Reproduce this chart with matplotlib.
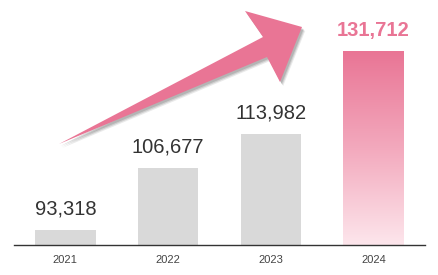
import numpy as np
import matplotlib
matplotlib.use("Agg")
import matplotlib.pyplot as plt
from matplotlib.patches import Polygon
from matplotlib.colors import LinearSegmentedColormap

years = ["2021", "2022", "2023", "2024"]
values = [93318, 106677, 113982, 131712]

W, H = 439, 275
plt.rcParams["font.family"] = ["Liberation Sans", "DejaVu Sans"]

fig = plt.figure(figsize=(W / 100, H / 100), dpi=100)
ax = fig.add_axes([14 / W, 1 - 245 / H, 411 / W, 245 / H])

ymin, ymax = 90000, 142800
bar_w = 0.59
gray = "#d9d9d9"
pink = "#e97595"
x = np.arange(len(years))
last = len(values) - 1

# gray bars for the earlier years
for i, v in enumerate(values[:last]):
    ax.bar(x[i], v - ymin, bottom=ymin, width=bar_w, color=gray, zorder=2)
    ax.annotate(f"{v:,}", (x[i], v), xytext=(0, 8), textcoords="offset points",
                ha="center", va="bottom", fontsize=14.5, color="#333333")

# gradient bar for the last year
cmap = LinearSegmentedColormap.from_list("pk", ["#fde6ec", "#f3a9bd", pink])
grad = np.linspace(0, 1, 256).reshape(-1, 1)
ax.imshow(grad, cmap=cmap, origin="lower", aspect="auto", zorder=2,
          extent=(x[last] - bar_w / 2, x[last] + bar_w / 2, ymin, values[last]))
ax.annotate(f"{values[last]:,}", (x[last], values[last]), xytext=(0, 8),
            textcoords="offset points", ha="center", va="bottom", fontsize=14.5,
            fontweight="bold", color=pink)

ax.set_xlim(-0.5, len(years) - 0.5)
ax.set_ylim(ymin, ymax)
ax.set_xticks(x)
ax.set_xticklabels(years, fontsize=8, color="#444444")
ax.tick_params(axis="x", length=0, pad=7)
ax.set_yticks([])
for s in ["top", "left", "right"]:
    ax.spines[s].set_visible(False)
ax.spines["bottom"].set_color("#333333")
ax.spines["bottom"].set_linewidth(1)

# decorative trend arrow (pixel positions in the picture)
arrow_px = [(59, 144), (263, 37), (245, 11), (302, 27), (280, 82), (267, 57)]


def to_fig(pts, dx=0, dy=0):
    return [((px + dx) / W, 1 - (py + dy) / H) for px, py in pts]


# soft drop shadow
for k, a in [(4.0, 0.12), (3.0, 0.18), (2.0, 0.22)]:
    fig.patches.append(Polygon(to_fig(arrow_px, k * 0.8, k), closed=True,
                               transform=fig.transFigure, facecolor="#555555",
                               edgecolor="none", alpha=a, zorder=3))
fig.patches.append(Polygon(to_fig(arrow_px), closed=True, transform=fig.transFigure,
                           facecolor=pink, edgecolor="none", zorder=4))

fig.savefig("out.png", dpi=100)
